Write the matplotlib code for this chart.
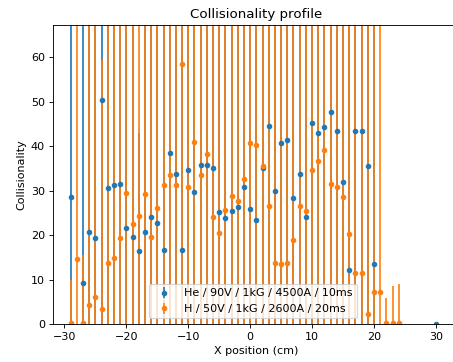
import matplotlib
matplotlib.use("Agg")
import matplotlib.pyplot as plt

# Data
x_he = [-29, -27, -26, -25, -24, -23, -22, -21, -20, -19, -18, -17, -16, -15, -14,
        -13, -12, -11, -10, -9, -8, -7, -6, -5, -4, -3, -2, -1, 0, 1, 2, 3, 4, 5,
        6, 7, 8, 9, 10, 11, 12, 13, 14, 15, 16, 17, 18, 19, 20, 30]
y_he = [28.6, 9.3, 20.6, 19.3, 50.4, 30.5, 31.3, 31.5, 21.6, 19.5, 16.3, 20.6, 24.1,
        22.7, 16.6, 38.5, 33.7, 16.7, 34.7, 29.6, 35.8, 35.8, 35.0, 25.1, 23.9, 25.4,
        26.3, 30.9, 25.8, 23.4, 35.1, 44.6, 29.9, 40.6, 41.4, 28.4, 33.8, 24.1, 45.1,
        42.9, 44.3, 47.6, 43.4, 32.0, 12.2, 43.4, 43.4, 35.5, 13.4, 0.0]
err_he = [75, 70, 68, 72, 65, 70, 74, 69, 71, 66, 26.6, 73, 70, 68, 72, 66, 69, 75,
          70, 71, 67, 68, 70, 73, 72, 69, 70, 71, 74, 68, 70, 66, 72, 69, 70, 73,
          71, 68, 66, 70, 72, 65, 69, 71, 74, 68, 67, 70, 72, 0]

x_h = [-29, -28, -27, -26, -25, -24, -23, -22, -21, -20, -19, -18, -17, -16, -15,
       -14, -13, -12, -11, -10, -9, -8, -7, -6, -5, -4, -3, -2, -1, 0, 1, 2, 3, 4,
       5, 6, 7, 8, 9, 10, 11, 12, 13, 14, 15, 16, 17, 18, 19, 20, 21, 22, 23, 24]
y_h = [0.3, 14.6, 0.3, 4.3, 6.0, 3.3, 13.6, 14.8, 19.3, 29.5, 22.5, 24.3, 29.2, 19.6,
       26.1, 31.2, 33.6, 31.2, 58.4, 30.7, 41.0, 33.4, 38.1, 24.0, 20.5, 25.6, 28.8,
       27.6, 32.7, 40.7, 40.2, 35.4, 26.6, 13.7, 13.4, 13.6, 18.9, 26.6, 25.5, 34.5,
       36.6, 39.1, 31.4, 30.8, 28.5, 20.2, 11.5, 11.5, 2.2, 7.1, 7.1, 0.15, 0.3, 0.3]
err_h = [9.6, 80, 15.2, 78, 76, 56.0, 82, 79, 77, 80, 81, 78, 76, 83, 79, 80, 77,
         82, 78, 81, 79, 80, 78, 82, 77, 80, 79, 81, 78, 80, 82, 77, 79, 80, 81, 78,
         80, 79, 82, 78, 80, 77, 81, 79, 80, 78, 82, 80, 79, 81, 78, 5.75, 8.2, 8.7]

label_he = "He / 90V / 1kG / 4500A / 10ms"
label_h = "H / 50V / 1kG / 2600A / 20ms"

dpi = 80
fig = plt.figure(figsize=(453 / dpi, 362 / dpi), dpi=dpi)
ax = fig.add_axes([52.7 / 453, 38 / 362, 406 / 453, 299 / 362])

ax.errorbar(x_he, y_he, yerr=err_he, fmt='.', markersize=8, color='C0', label=label_he)
ax.errorbar(x_h, y_h, yerr=err_h, fmt='.', markersize=8, color='C1', label=label_h)

ax.set_xlim(-31.9, 33.69)
ax.set_ylim(0, 67.2)
ax.spines['right'].set_visible(False)
ax.set_title("Collisionality profile")
ax.set_xlabel("X position (cm)")
ax.set_ylabel("Collisionality")
ax.legend(loc='lower center', bbox_to_anchor=(0, 0, 0.9867, 1))

fig.savefig("out.png", dpi=dpi)
